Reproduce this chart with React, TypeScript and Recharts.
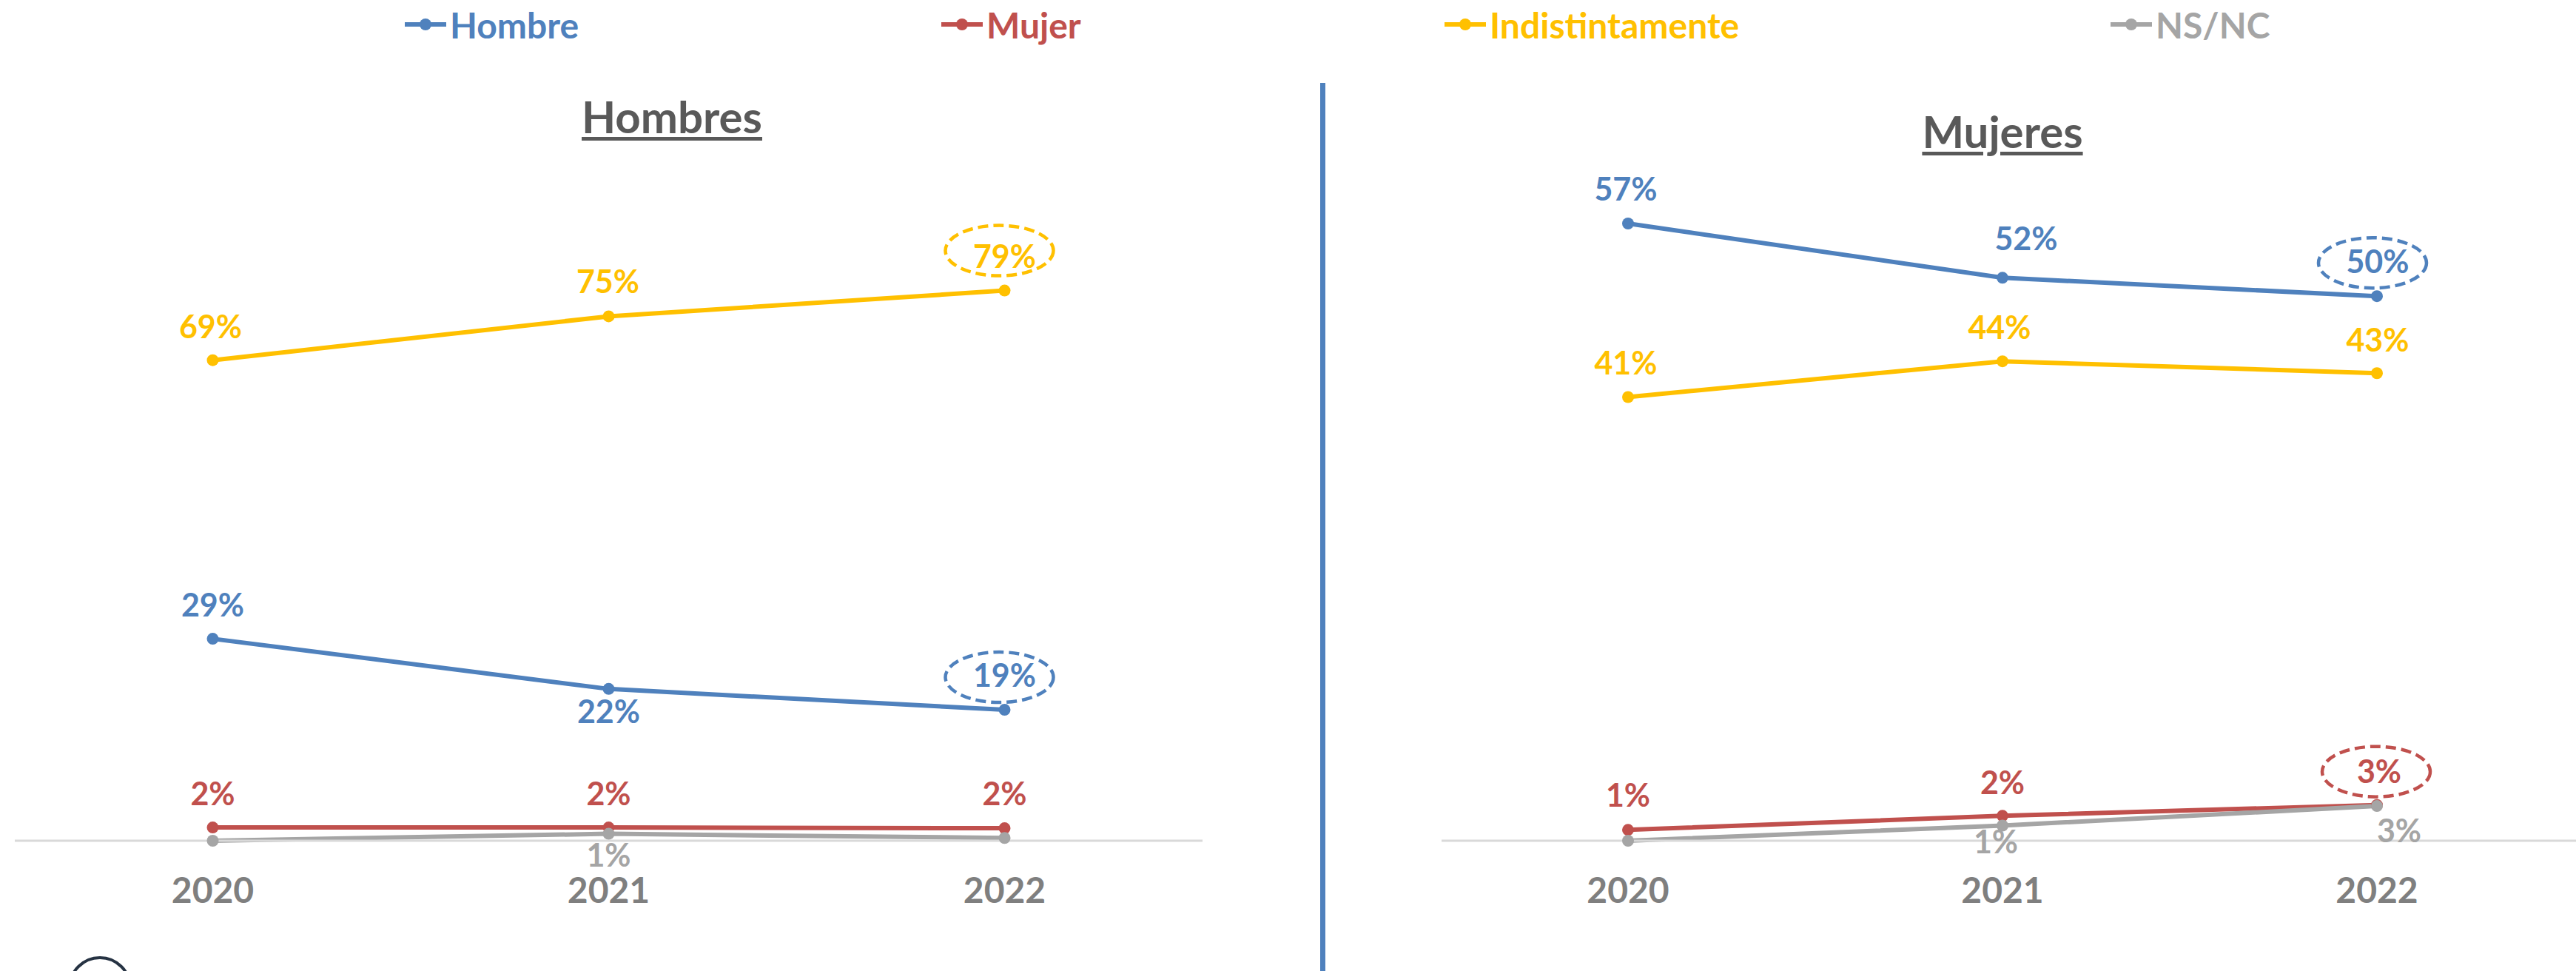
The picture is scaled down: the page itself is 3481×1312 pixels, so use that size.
import React from "react";
import { LineChart, Line, XAxis, YAxis, LabelList, Legend } from "recharts";

const years = ["2020", "2021", "2022"];

// panel "Hombres" (%)
const hmHombre = [29.0, 21.8, 18.8];
const hmMujer = [1.9, 1.9, 1.8];
const hmIndist = [69.0, 75.3, 79.0];
const hmNsnc = [0, 1.0, 0.4];

// panel "Mujeres" (%)
const mjHombre = [56.9, 51.9, 50.2];
const mjMujer = [1.0, 2.3, 3.3];
const mjIndist = [40.9, 44.2, 43.1];
const mjNsnc = [0, 1.4, 3.2];

const seriesNames = ["Hombre", "Mujer", "Indistintamente", "NS/NC"];
const seriesKeys = ["hombre", "mujer", "indist", "nsnc"];
const colors = ["#4f81bd", "#c0504d", "#ffc000", "#a5a5a5"];

const FONT = "Lato, 'Open Sans', sans-serif";

const toRows = (h: number[], m: number[], i: number[], n: number[]) =>
  years.map((year, k) => ({ year, hombre: h[k], mujer: m[k], indist: i[k], nsnc: n[k] }));

const hombresRows = toRows(hmHombre, hmMujer, hmIndist, hmNsnc);
const mujeresRows = toRows(mjHombre, mjMujer, mjIndist, mjNsnc);

// label placement (offset of label centre from the point), per series
type Ring = { index: number; dx: number; dy: number };
type LabelLayout = { offsets: number[][]; ring?: Ring };

const hombresLabels: LabelLayout[] = [
  { offsets: [[0, -46], [0, 31], [0, -46]], ring: { index: 2, dx: -7, dy: -44 } },
  { offsets: [[0, -46], [0, -46], [0, -46]] },
  { offsets: [[-3, -45], [-1, -47], [0, -46]], ring: { index: 2, dx: -7, dy: -54 } },
  { offsets: [[0, 29], [0, 29], [0, 29]] },
];

const mujeresLabels: LabelLayout[] = [
  { offsets: [[-3, -46], [32, -53], [1, -47]], ring: { index: 2, dx: -6, dy: -45 } },
  { offsets: [[0, -47], [0, -45], [3, -45]], ring: { index: 2, dx: -1, dy: -45 } },
  { offsets: [[-3, -46], [-4, -46], [1, -45]] },
  { offsets: [[0, 22], [-9, 22], [30, 34]] },
];

const legendLeft = [547, 1272, 1952, 2852];

function makeLabel(color: string, layout: LabelLayout) {
  return (props: any) => {
    const { x, y, value, index } = props;
    const pct = Math.round(Number(value));
    if (!pct) return null;
    const [dx, dy] = layout.offsets[index] || [0, -46];
    const ring = layout.ring && layout.ring.index === index ? layout.ring : null;
    return (
      <g key={`lbl-${index}`}>
        {ring && (
          <ellipse
            cx={x + ring.dx}
            cy={y + ring.dy}
            rx={73}
            ry={34}
            fill="none"
            stroke={color}
            strokeWidth={4.5}
            strokeDasharray="14 7"
          />
        )}
        <text
          x={x + dx}
          y={y + dy + 0.358 * 43}
          textAnchor="middle"
          fill={color}
          fontSize={43}
          fontWeight={700}
          fontFamily={FONT}
        >
          {pct}%
        </text>
      </g>
    );
  };
}

const renderLegend = (props: any) => {
  const payload = props.payload || [];
  return (
    <div style={{ position: "relative", width: 3481, height: 66 }}>
      {payload.map((entry: any) => {
        const i = seriesNames.indexOf(entry.value);
        const c = colors[i];
        return (
          <div
            key={entry.value}
            style={{
              position: "absolute",
              left: legendLeft[i],
              top: 0,
              height: 66,
              display: "flex",
              alignItems: "center",
            }}
          >
            <svg width={56} height={20}>
              <line x1={0} y1={10} x2={56} y2={10} stroke={c} strokeWidth={6} />
              <circle cx={28} cy={10} r={8} fill={c} />
            </svg>
            <span
              style={{
                marginLeft: 5,
                color: c,
                fontSize: 48,
                fontWeight: 700,
                fontFamily: FONT,
                whiteSpace: "nowrap",
              }}
            >
              {entry.value}
            </span>
          </div>
        );
      })}
    </div>
  );
};

type PanelProps = {
  rows: any[];
  domainMax: number;
  width: number;
  marginLeft: number;
  marginRight: number;
  padLeft: number;
  padRight: number;
  labels: LabelLayout[];
  withLegend?: boolean;
};

const Panel = ({ rows, domainMax, width, marginLeft, marginRight, padLeft, padRight, labels, withLegend }: PanelProps) => (
  <LineChart
    width={width}
    height={1312}
    data={rows}
    margin={{ top: 195, right: marginRight, left: marginLeft, bottom: 0 }}
  >
    <XAxis
      dataKey="year"
      height={176}
      padding={{ left: padLeft, right: padRight }}
      axisLine={{ stroke: "#d9d9d9", strokeWidth: 3 }}
      tickLine={false}
      tickMargin={44}
      tick={{ fill: "#7f7f7f", fontSize: 48, fontWeight: 700, fontFamily: FONT }}
    />
    <YAxis hide domain={[0, domainMax]} />
    {withLegend && (
      <Legend
        layout="vertical"
        align="center"
        verticalAlign="middle"
        content={renderLegend}
        wrapperStyle={{ left: 0, top: 0, width: 3481, height: 66 }}
      />
    )}
    {seriesKeys.map((key, i) => (
      <Line
        key={key}
        type="linear"
        dataKey={key}
        name={seriesNames[i]}
        stroke={colors[i]}
        strokeWidth={6}
        dot={{ r: 8, fill: colors[i], stroke: "none" }}
        activeDot={false}
        isAnimationActive={false}
      >
        <LabelList dataKey={key} content={makeLabel(colors[i], labels[i])} />
      </Line>
    ))}
  </LineChart>
);

const titleStyle: React.CSSProperties = {
  position: "absolute",
  width: 800,
  textAlign: "center",
  fontFamily: FONT,
  fontSize: 60,
  fontWeight: 700,
  lineHeight: "normal",
  color: "#595959",
  textDecoration: "underline",
  textDecorationThickness: "5px",
  textUnderlineOffset: "5px",
};

export default function App() {
  return (
    <div
      style={{
        position: "absolute",
        left: 0,
        top: 0,
        width: 3481,
        height: 1312,
        overflow: "hidden",
        background: "#fff",
        fontFamily: FONT,
      }}
    >
      <div style={{ position: "absolute", left: 0, top: 0 }}>
        <Panel
          rows={hombresRows}
          domainMax={100}
          width={1760}
          marginLeft={20}
          marginRight={135}
          padLeft={267.5}
          padRight={267.5}
          labels={hombresLabels}
          withLegend
        />
      </div>
      <div style={{ position: "absolute", left: 1760, top: 0 }}>
        <Panel
          rows={mujeresRows}
          domainMax={64.2}
          width={1721}
          marginLeft={188}
          marginRight={0}
          padLeft={252}
          padRight={269}
          labels={mujeresLabels}
        />
      </div>
      <div style={{ ...titleStyle, left: 508, top: 121 }}>Hombres</div>
      <div style={{ ...titleStyle, left: 2306, top: 141 }}>Mujeres</div>
      <div
        style={{
          position: "absolute",
          left: 1784,
          top: 112,
          width: 7,
          height: 1200,
          background: "#4f81bd",
        }}
      />
      <div
        style={{
          position: "absolute",
          left: 92,
          top: 1292,
          width: 78,
          height: 78,
          border: "4px solid #263343",
          borderRadius: "50%",
        }}
      />
    </div>
  );
}
